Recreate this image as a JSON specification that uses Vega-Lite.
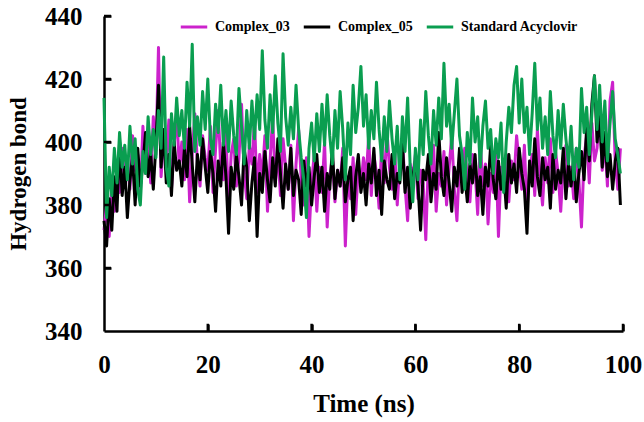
{
  "$schema": "https://vega.github.io/schema/vega-lite/v6.json",
  "autosize": {"type": "none"},
  "width": 519,
  "height": 315,
  "padding": {"left": 104, "top": 16, "right": 21, "bottom": 91},
  "background": "white",
  "config": {"view": {"stroke": null}, "font": "Liberation Serif"},
  "resolve": {"axis": {"x": "independent", "y": "independent"}},
  "datasets": {
    "series": [
{"t":0,"a":372,"b":375,"c":414},{"t":0.5,"a":380,"b":367,"c":376},{"t":1,"a":370,"b":382,"c":392},{"t":1.5,"a":386,"b":372,"c":383},{"t":2,"a":378,"b":389,"c":398},{"t":2.5,"a":392,"b":378,"c":387},{"t":3,"a":384,"b":400,"c":403},{"t":3.5,"a":398,"b":383,"c":392},{"t":4,"a":388,"b":392,"c":399},{"t":4.5,"a":394,"b":376,"c":388},
{"t":5,"a":385,"b":388,"c":405},{"t":5.5,"a":402,"b":395,"c":393},{"t":6,"a":391,"b":380,"c":401},{"t":6.5,"a":396,"b":398,"c":385},{"t":7,"a":383,"b":386,"c":380},{"t":7.5,"a":405,"b":393,"c":397},{"t":8,"a":390,"b":403,"c":390},{"t":8.5,"a":399,"b":389,"c":408},{"t":9,"a":387,"b":396,"c":396},{"t":9.5,"a":408,"b":385,"c":404},
{"t":10,"a":396,"b":399,"c":395},{"t":10.5,"a":430,"b":418,"c":410},{"t":11,"a":389,"b":392,"c":398},{"t":11.5,"a":401,"b":404,"c":427},{"t":12,"a":394,"b":387,"c":392},{"t":12.5,"a":407,"b":396,"c":386},{"t":13,"a":385,"b":383,"c":409},{"t":13.5,"a":398,"b":400,"c":399},{"t":14,"a":410,"b":391,"c":414},{"t":14.5,"a":392,"b":394,"c":402},
{"t":15,"a":400,"b":386,"c":410},{"t":15.5,"a":388,"b":398,"c":398},{"t":16,"a":404,"b":389,"c":419},{"t":16.5,"a":381,"b":405,"c":405},{"t":17,"a":396,"b":393,"c":431},{"t":17.5,"a":409,"b":381,"c":397},{"t":18,"a":393,"b":396,"c":408},{"t":18.5,"a":386,"b":388,"c":399},{"t":19,"a":402,"b":401,"c":416},{"t":19.5,"a":395,"b":392,"c":404},
{"t":20,"a":391,"b":384,"c":420},{"t":20.5,"a":405,"b":397,"c":401},{"t":21,"a":384,"b":390,"c":396},{"t":21.5,"a":398,"b":378,"c":412},{"t":22,"a":410,"b":394,"c":403},{"t":22.5,"a":392,"b":386,"c":418},{"t":23,"a":388,"b":400,"c":399},{"t":23.5,"a":403,"b":389,"c":410},{"t":24,"a":379,"b":371,"c":397},{"t":24.5,"a":396,"b":392,"c":413},
{"t":25,"a":401,"b":385,"c":402},{"t":25.5,"a":386,"b":396,"c":396},{"t":26,"a":395,"b":389,"c":417},{"t":26.5,"a":412,"b":380,"c":405},{"t":27,"a":390,"b":398,"c":393},{"t":27.5,"a":382,"b":392,"c":410},{"t":28,"a":399,"b":375,"c":398},{"t":28.5,"a":393,"b":387,"c":413},{"t":29,"a":407,"b":395,"c":401},{"t":29.5,"a":384,"b":370,"c":415},
{"t":30,"a":396,"b":390,"c":404},{"t":30.5,"a":389,"b":384,"c":429},{"t":31,"a":402,"b":397,"c":407},{"t":31.5,"a":378,"b":388,"c":398},{"t":32,"a":394,"b":381,"c":415},{"t":32.5,"a":408,"b":395,"c":403},{"t":33,"a":387,"b":386,"c":421},{"t":33.5,"a":397,"b":401,"c":406},{"t":34,"a":383,"b":390,"c":397},{"t":34.5,"a":401,"b":379,"c":428},
{"t":35,"a":392,"b":393,"c":408},{"t":35.5,"a":385,"b":385,"c":399},{"t":36,"a":399,"b":398,"c":411},{"t":36.5,"a":375,"b":383,"c":401},{"t":37,"a":393,"b":391,"c":418},{"t":37.5,"a":404,"b":388,"c":404},{"t":38,"a":388,"b":377,"c":395},{"t":38.5,"a":380,"b":394,"c":388},{"t":39,"a":395,"b":386,"c":376},{"t":39.5,"a":370,"b":392,"c":398},
{"t":40,"a":387,"b":380,"c":406},{"t":40.5,"a":396,"b":389,"c":394},{"t":41,"a":378,"b":396,"c":409},{"t":41.5,"a":392,"b":384,"c":397},{"t":42,"a":384,"b":392,"c":412},{"t":42.5,"a":400,"b":378,"c":399},{"t":43,"a":373,"b":390,"c":415},{"t":43.5,"a":389,"b":385,"c":402},{"t":44,"a":395,"b":398,"c":393},{"t":44.5,"a":381,"b":382,"c":410},
{"t":45,"a":391,"b":391,"c":398},{"t":45.5,"a":386,"b":386,"c":416},{"t":46,"a":398,"b":395,"c":404},{"t":46.5,"a":367,"b":381,"c":388},{"t":47,"a":389,"b":388,"c":406},{"t":47.5,"a":382,"b":392,"c":396},{"t":48,"a":395,"b":375,"c":418},{"t":48.5,"a":377,"b":389,"c":403},{"t":49,"a":392,"b":396,"c":411},{"t":49.5,"a":386,"b":384,"c":424},
{"t":50,"a":395,"b":390,"c":405},{"t":50.5,"a":388,"b":380,"c":415},{"t":51,"a":402,"b":393,"c":398},{"t":51.5,"a":383,"b":387,"c":410},{"t":52,"a":396,"b":398,"c":401},{"t":52.5,"a":390,"b":383,"c":419},{"t":53,"a":379,"b":391,"c":404},{"t":53.5,"a":399,"b":377,"c":394},{"t":54,"a":387,"b":394,"c":408},{"t":54.5,"a":404,"b":388,"c":397},
{"t":55,"a":392,"b":385,"c":413},{"t":55.5,"a":385,"b":396,"c":401},{"t":56,"a":398,"b":382,"c":393},{"t":56.5,"a":380,"b":390,"c":405},{"t":57,"a":394,"b":387,"c":388},{"t":57.5,"a":401,"b":400,"c":408},{"t":58,"a":386,"b":384,"c":397},{"t":58.5,"a":375,"b":392,"c":414},{"t":59,"a":393,"b":379,"c":392},{"t":59.5,"a":389,"b":389,"c":381},
{"t":60,"a":396,"b":394,"c":398},{"t":60.5,"a":382,"b":386,"c":388},{"t":61,"a":391,"b":372,"c":407},{"t":61.5,"a":387,"b":391,"c":396},{"t":62,"a":369,"b":388,"c":416},{"t":62.5,"a":394,"b":396,"c":402},{"t":63,"a":384,"b":381,"c":393},{"t":63.5,"a":399,"b":390,"c":410},{"t":64,"a":378,"b":385,"c":399},{"t":64.5,"a":390,"b":403,"c":414},
{"t":65,"a":386,"b":389,"c":401},{"t":65.5,"a":397,"b":383,"c":425},{"t":66,"a":380,"b":395,"c":405},{"t":66.5,"a":392,"b":387,"c":412},{"t":67,"a":402,"b":378,"c":398},{"t":67.5,"a":385,"b":392,"c":409},{"t":68,"a":375,"b":386,"c":420},{"t":68.5,"a":394,"b":398,"c":402},{"t":69,"a":388,"b":384,"c":396},{"t":69.5,"a":398,"b":390,"c":385},
{"t":70,"a":389,"b":381,"c":403},{"t":70.5,"a":381,"b":393,"c":393},{"t":71,"a":396,"b":387,"c":414},{"t":71.5,"a":391,"b":396,"c":400},{"t":72,"a":377,"b":383,"c":408},{"t":72.5,"a":400,"b":389,"c":392},{"t":73,"a":386,"b":377,"c":405},{"t":73.5,"a":393,"b":392,"c":413},{"t":74,"a":374,"b":386,"c":398},{"t":74.5,"a":390,"b":399,"c":404},
{"t":75,"a":384,"b":388,"c":390},{"t":75.5,"a":398,"b":382,"c":401},{"t":76,"a":370,"b":394,"c":395},{"t":76.5,"a":392,"b":385,"c":406},{"t":77,"a":387,"b":391,"c":384},{"t":77.5,"a":396,"b":379,"c":400},{"t":78,"a":381,"b":396,"c":411},{"t":78.5,"a":394,"b":387,"c":403},{"t":79,"a":388,"b":393,"c":418},{"t":79.5,"a":402,"b":384,"c":424},
{"t":80,"a":393,"b":398,"c":406},{"t":80.5,"a":385,"b":390,"c":420},{"t":81,"a":399,"b":385,"c":403},{"t":81.5,"a":378,"b":371,"c":411},{"t":82,"a":391,"b":394,"c":396},{"t":82.5,"a":396,"b":386,"c":409},{"t":83,"a":383,"b":401,"c":425},{"t":83.5,"a":404,"b":389,"c":404},{"t":84,"a":389,"b":383,"c":414},{"t":84.5,"a":380,"b":395,"c":398},
{"t":85,"a":395,"b":388,"c":408},{"t":85.5,"a":387,"b":392,"c":396},{"t":86,"a":401,"b":379,"c":416},{"t":86.5,"a":384,"b":396,"c":402},{"t":87,"a":397,"b":385,"c":395},{"t":87.5,"a":390,"b":391,"c":410},{"t":88,"a":378,"b":387,"c":398},{"t":88.5,"a":393,"b":398,"c":412},{"t":89,"a":399,"b":382,"c":401},{"t":89.5,"a":386,"b":393,"c":393},
{"t":90,"a":392,"b":386,"c":405},{"t":90.5,"a":382,"b":395,"c":388},{"t":91,"a":398,"b":381,"c":398},{"t":91.5,"a":388,"b":390,"c":392},{"t":92,"a":373,"b":397,"c":417},{"t":92.5,"a":395,"b":388,"c":403},{"t":93,"a":402,"b":405,"c":411},{"t":93.5,"a":387,"b":394,"c":396},{"t":94,"a":406,"b":412,"c":409},{"t":94.5,"a":394,"b":421,"c":421},
{"t":95,"a":398,"b":400,"c":404},{"t":95.5,"a":410,"b":408,"c":418},{"t":96,"a":391,"b":392,"c":400},{"t":96.5,"a":400,"b":403,"c":413},{"t":97,"a":386,"b":389,"c":394},{"t":97.5,"a":413,"b":396,"c":406},{"t":98,"a":419,"b":385,"c":416},{"t":98.5,"a":394,"b":394,"c":401},{"t":99,"a":385,"b":398,"c":396},{"t":99.5,"a":398,"b":380,"c":390}
    ],
    "xticks": [{"t":20},{"t":40},{"t":60},{"t":80},{"t":100}],
    "yticks": [{"v":360},{"v":380},{"v":400},{"v":420},{"v":440}]
  },
  "layer": [
    {
      "data": {"name": "series"},
      "transform": [{"fold": ["a", "b", "c"], "as": ["k", "v"]}],
      "mark": {"type": "line", "strokeWidth": 3, "strokeJoin": "round"},
      "encoding": {
        "x": {
          "field": "t", "type": "quantitative",
          "scale": {"domain": [0, 100], "nice": false, "zero": false},
          "axis": {
            "title": "Time (ns)", "values": [0, 20, 40, 60, 80, 100], "grid": false, "ticks": false, "labelFlush": false,
            "domainColor": "black", "domainWidth": 2.5,
            "labelFont": "Liberation Serif", "labelFontWeight": "bold", "labelFontSize": 25, "labelColor": "black", "labelPadding": 21,
            "titleFont": "Liberation Serif", "titleFontWeight": "bold", "titleFontSize": 25, "titleColor": "black", "titlePadding": 14
          }
        },
        "y": {
          "field": "v", "type": "quantitative",
          "scale": {"domain": [340, 440], "nice": false, "zero": false},
          "axis": {
            "title": "Hydrogen bond", "values": [340, 360, 380, 400, 420, 440], "grid": false, "ticks": false, "labelFlush": false,
            "domainColor": "black", "domainWidth": 2.5,
            "labelFont": "Liberation Serif", "labelFontWeight": "bold", "labelFontSize": 25, "labelColor": "black", "labelPadding": 22,
            "titleFont": "Liberation Serif", "titleFontWeight": "bold", "titleFontSize": 23, "titleColor": "black", "titlePadding": 14
          }
        },
        "color": {
          "field": "k", "type": "nominal",
          "scale": {"domain": ["a", "b", "c"], "range": ["#cc22cc", "#000000", "#0a9e50"]},
          "legend": {
            "title": null, "orient": "none", "legendX": 75, "legendY": -4, "direction": "horizontal",
            "symbolType": "stroke", "symbolSize": 700, "symbolStrokeWidth": 3,
            "labelExpr": "datum.value == 'a' ? 'Complex_03' : datum.value == 'b' ? 'Complex_05' : 'Standard Acyclovir'",
            "labelFont": "Liberation Serif", "labelFontWeight": "bold", "labelFontSize": 14, "labelColor": "black",
            "columnPadding": 7, "labelOffset": 6
          }
        },
        "order": {"field": "t", "type": "quantitative"}
      }
    },
    {
      "data": {"name": "xticks"},
      "mark": {"type": "rule", "color": "black", "strokeWidth": 2.5},
      "encoding": {
        "x": {
          "field": "t", "type": "quantitative",
          "axis": {"orient": "top", "offset": -315, "values": [20, 40, 60, 80, 100], "title": null, "labels": false, "domain": false, "grid": false,
                   "ticks": true, "tickSize": 7, "tickWidth": 2.5, "tickColor": "black"}
        },
        "y": {"datum": 340, "type": "quantitative", "axis": null},
        "y2": {"datum": 342.3}
      }
    },
    {
      "data": {"name": "yticks"},
      "mark": {"type": "rule", "color": "black", "strokeWidth": 2.5},
      "encoding": {
        "y": {
          "field": "v", "type": "quantitative",
          "axis": {"orient": "right", "offset": -519, "values": [360, 380, 400, 420, 440], "title": null, "labels": false, "domain": false, "grid": false,
                   "ticks": true, "tickSize": 7, "tickWidth": 2.5, "tickColor": "black"}
        },
        "x": {"datum": 0, "type": "quantitative", "axis": null},
        "x2": {"datum": 1.35}
      }
    }
  ]
}
